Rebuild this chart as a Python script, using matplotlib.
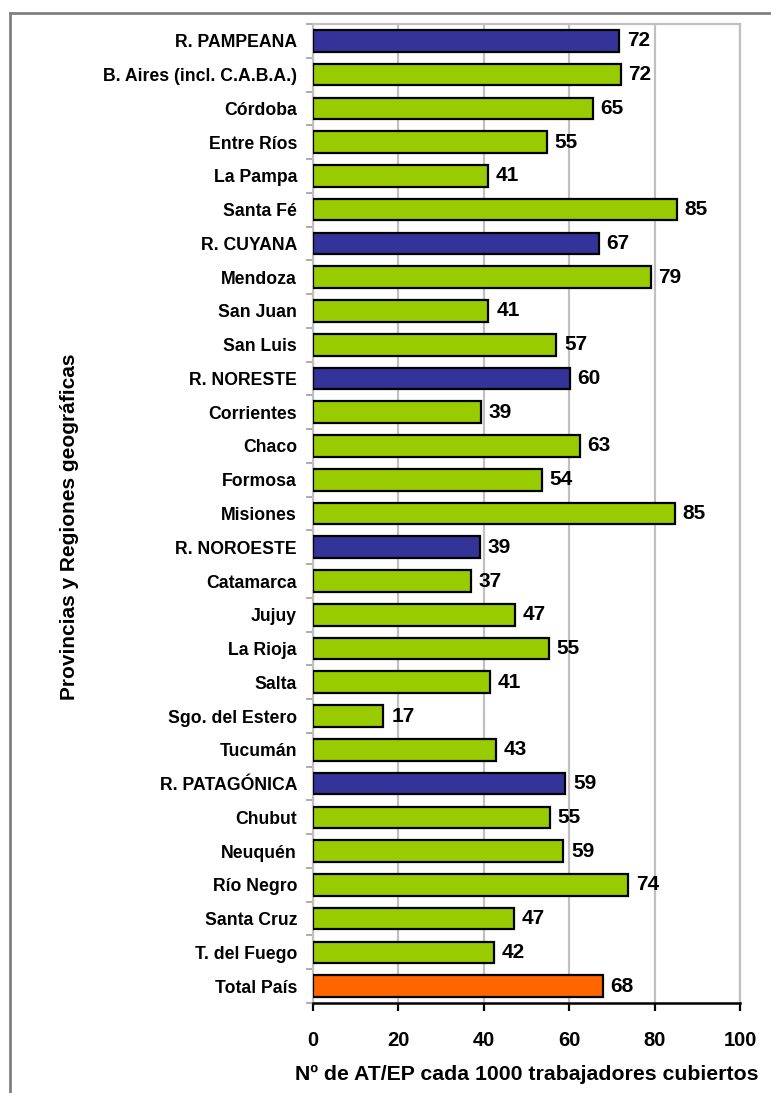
import matplotlib.pyplot as plt
from matplotlib.lines import Line2D
import numpy as np

plt.rcParams['font.family'] = ['Liberation Sans', 'DejaVu Sans']

categorias = [
    "R. PAMPEANA", "B. Aires (incl. C.A.B.A.)", "Córdoba", "Entre Ríos", "La Pampa",
    "Santa Fé", "R. CUYANA", "Mendoza", "San Juan", "San Luis", "R. NORESTE",
    "Corrientes", "Chaco", "Formosa", "Misiones", "R. NOROESTE", "Catamarca",
    "Jujuy", "La Rioja", "Salta", "Sgo. del Estero", "Tucumán", "R. PATAGÓNICA",
    "Chubut", "Neuquén", "Río Negro", "Santa Cruz", "T. del Fuego", "Total País",
]
valores = [
    71.7, 72.1, 65.5, 54.7, 41.0, 85.2, 66.9, 79.1, 41.1, 57.0, 60.2,
    39.3, 62.5, 53.6, 84.8, 39.1, 36.9, 47.2, 55.2, 41.5, 16.5, 42.8, 59.1,
    55.5, 58.6, 73.8, 47.1, 42.3, 67.8,
]
etiquetas = [72, 72, 65, 55, 41, 85, 67, 79, 41, 57, 60, 39, 63, 54, 85, 39, 37,
             47, 55, 41, 17, 43, 59, 55, 59, 74, 47, 42, 68]
# tipo: R = region, P = provincia, T = total
tipos = ["R", "P", "P", "P", "P", "P", "R", "P", "P", "P", "R", "P", "P", "P", "P",
         "R", "P", "P", "P", "P", "P", "P", "R", "P", "P", "P", "P", "P", "T"]
colores = {"R": "#333399", "P": "#99CC00", "T": "#FF6600"}

W, H = 771, 1093
fig = plt.figure(figsize=(W / 100, H / 100), dpi=100)
ax = fig.add_axes([313 / W, 1 - 1003 / H, (740 - 313) / W, (1003 - 24) / H])

n = len(categorias)
y = np.arange(n)
ax.barh(y, valores, height=0.64, color=[colores[t] for t in tipos],
        edgecolor="black", linewidth=1.6, zorder=3)
for yi, v, lab in zip(y, valores, etiquetas):
    ax.text(v + 1.8, yi, str(lab), va="center", ha="left",
            fontsize=15, fontweight="bold")

ax.set_ylim(n - 0.5, -0.5)
ax.set_xlim(0, 100)
ax.set_yticks(y)
ax.set_yticklabels(categorias, fontsize=12.7, fontweight="bold")
ax.tick_params(axis="y", length=0, pad=11.5)
ax.set_yticks(np.arange(-0.5, n, 1), minor=True)
ax.tick_params(axis="y", which="minor", length=5, color="#A0A0A0", width=1.2)

ax.set_xticks(np.arange(0, 101, 20))
ax.tick_params(axis="x", length=6, width=1.6, color="black", labelsize=14.5, pad=14)
for lab in ax.get_xticklabels():
    lab.set_fontweight("bold")
ax.grid(axis="x", color="#C0C0C0", linewidth=1.6, zorder=0)

for s in ["top", "right", "left"]:
    ax.spines[s].set_color("#C0C0C0")
    ax.spines[s].set_linewidth(1.6)
ax.spines["bottom"].set_color("black")
ax.spines["bottom"].set_linewidth(1.8)

ax.set_xlabel("Nº de AT/EP cada 1000 trabajadores cubiertos", fontsize=15.3,
              fontweight="bold", labelpad=11)
fig.text(70 / W, 1 - 527 / H, "Provincias y Regiones geográficas", rotation=90,
         ha="center", va="center", fontsize=15, fontweight="bold")

# marco exterior (solo superior e izquierdo visibles)
fig.add_artist(Line2D([10 / W, 1], [1 - 13 / H, 1 - 13 / H], color="#808080",
                      linewidth=2, transform=fig.transFigure))
fig.add_artist(Line2D([10 / W, 10 / W], [0, 1 - 13 / H], color="#808080",
                      linewidth=2, transform=fig.transFigure))

fig.savefig("out.png", dpi=100)
